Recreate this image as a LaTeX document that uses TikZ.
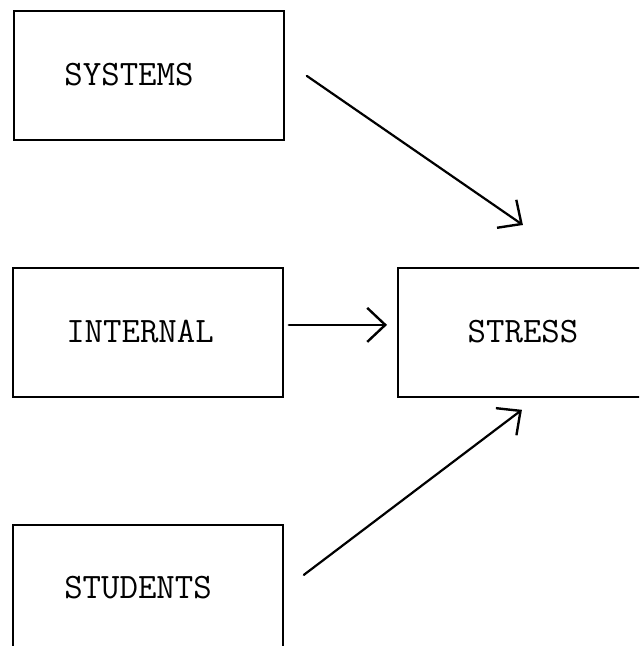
\documentclass[tikz,border=0pt]{standalone}
\usetikzlibrary{arrows.meta,calc}
\tikzset{
  boxnode/.style={draw=black, line width=0.9pt, minimum width=135pt, minimum height=64.5pt, inner sep=0pt, anchor=north west},
  lbl/.style={font=\ttfamily\fontsize{17.9}{20}\selectfont, inner sep=0pt, text=black},
  conn/.style={line width=1.1pt, line cap=round, -{Straight Barb[length=9pt,width=17pt,line width=1.2pt]}}
}
\begin{document}
\begin{tikzpicture}[x=0.5pt,y=-0.5pt]
\useasboundingbox (0,0) rectangle (639,646);
\clip (0,0) rectangle (639,646);
\fill[white] (0,0) rectangle (639,646);
\node[boxnode] (sys) at (13,10) {};
\node[boxnode] (int) at (12,267) {};
\node[boxnode] (str) at (397,267) {};
\node[boxnode] (stu) at (12,524) {};
\node[lbl] (tsys) at (129,75) {SYSTEMS};
\node[lbl] (tint) at (140,332) {INTERNAL};
\node[lbl] (tstr) at (523,332) {STRESS};
\node[lbl] (tstu) at (138,588) {STUDENTS};
\draw[conn] ($(sys.east)+(22,0.5)$) -- ($(str.north)+(-10,-42)$);
\draw[conn] ($(int.east)+(5,-7.5)$) -- ($(str.west)+(-10,-7.5)$);
\draw[conn] ($(stu.east)+(20,-14.5)$) -- ($(str.south)+(-11,12)$);
\end{tikzpicture}
\end{document}
